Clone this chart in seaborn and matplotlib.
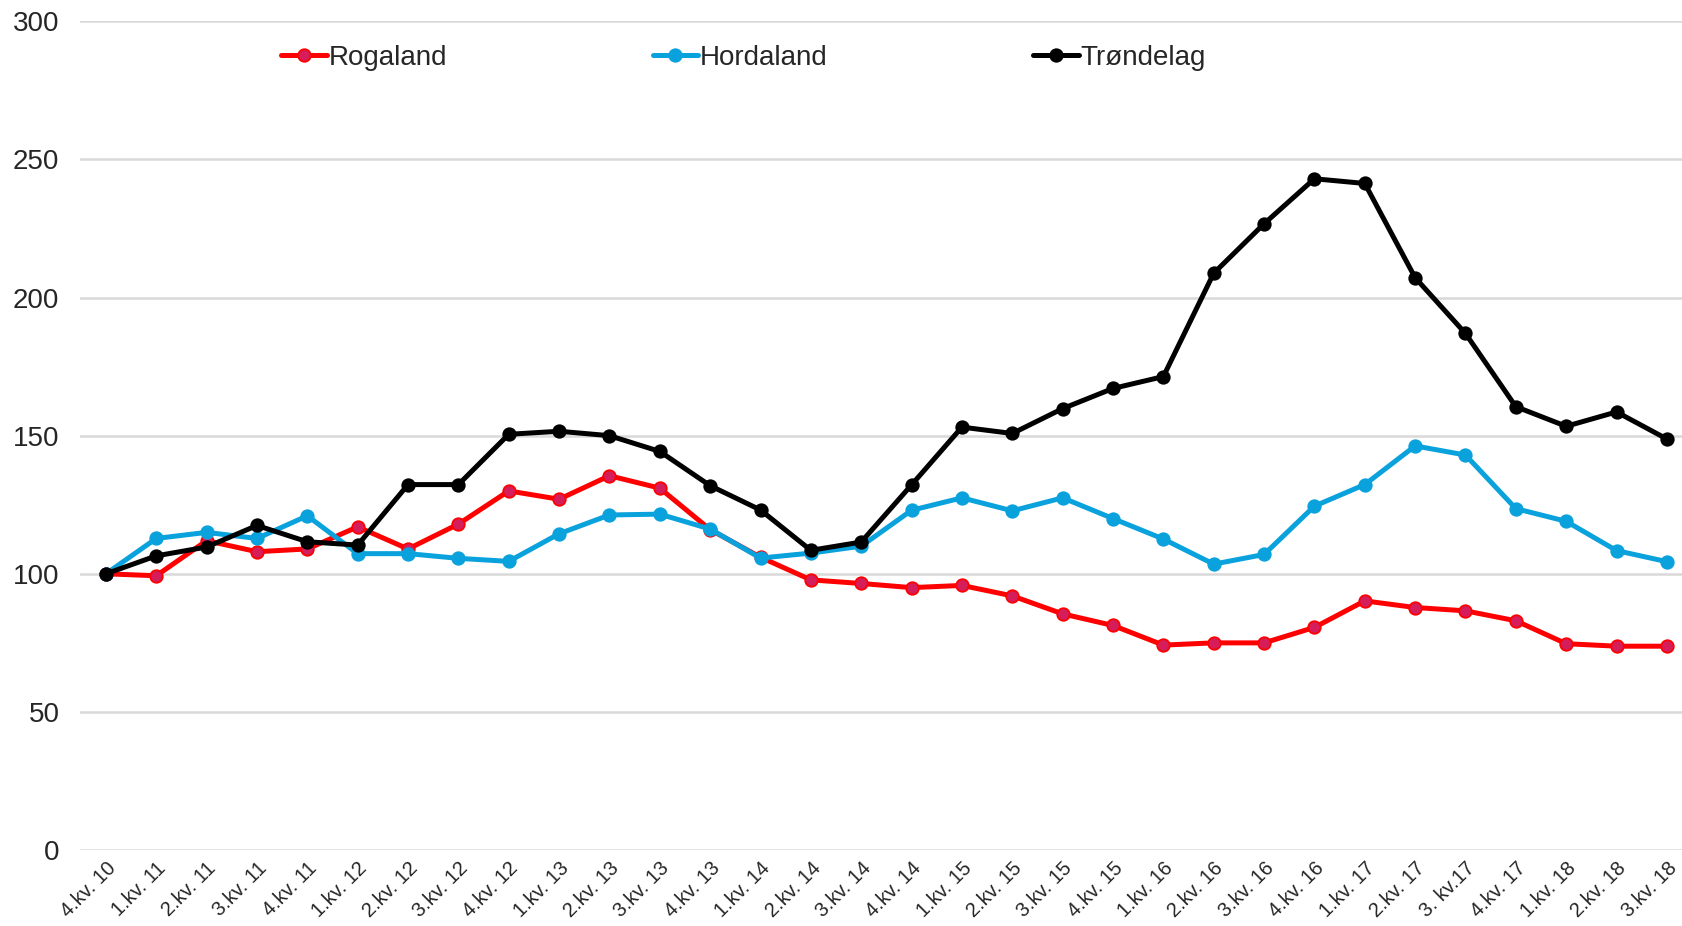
import numpy as np
import pandas as pd
import seaborn as sns
import matplotlib.pyplot as plt

quarters = ['4.kv. 10', '1.kv. 11', '2.kv. 11', '3.kv. 11', '4.kv. 11', '1.kv. 12',
            '2.kv. 12', '3.kv. 12', '4.kv. 12', '1.kv. 13', '2.kv. 13', '3.kv. 13',
            '4.kv. 13', '1.kv. 14', '2.kv. 14', '3.kv. 14', '4.kv. 14', '1.kv. 15',
            '2.kv. 15', '3.kv. 15', '4.kv. 15', '1.kv. 16', '2.kv. 16', '3.kv. 16',
            '4.kv. 16', '1.kv. 17', '2.kv. 17', '3. kv.17', '4.kv. 17', '1.kv. 18',
            '2.kv. 18', '3.kv. 18']

rogaland = [100, 99.3, 112, 108, 109, 117, 109, 118, 130, 127, 135.5, 131,
            116, 106, 97.8, 96.5, 95, 95.8, 92, 85.5, 81.3, 74.2, 75, 75,
            80.6, 90.2, 87.8, 86.6, 83, 74.7, 73.8, 73.8]
hordaland = [100, 112.8, 115, 112.8, 121, 107.3, 107.3, 105.6, 104.5, 114.5, 121.3, 121.6,
             116.2, 105.7, 107.5, 110, 123, 127.5, 122.8, 127.5, 120, 112.6, 103.5, 107,
             124.5, 132.3, 146.3, 143, 123.6, 119, 108.4, 104.4]
trondelag = [100, 106.5, 109.7, 117.5, 111.6, 110.4, 132.3, 132.3, 150.5, 151.6, 150, 144.3,
             131.9, 123.1, 108.5, 111.5, 132.2, 153.1, 150.8, 159.8, 167.1, 171.4, 208.8, 226.7,
             243, 241.3, 207.2, 187, 160.5, 153.4, 158.6, 148.8]

regions = ['Rogaland', 'Hordaland', 'Trøndelag']
series = [rogaland, hordaland, trondelag]
line_colors = ['#FF0000', '#0AA2DC', '#000000']
face_colors = ['#D41D5A', '#0AA2DC', '#000000']

sns.set_theme(style='white')
plt.rcParams['font.family'] = ['Liberation Sans', 'DejaVu Sans']

fig = plt.figure(figsize=(16.82, 9.26), dpi=100)
ax = fig.add_axes([0.0477, 0.082, 0.9523, 0.895])

x = np.arange(len(quarters))
for name, vals, lc, fc in zip(regions, series, line_colors, face_colors):
    df = pd.DataFrame({'x': x, 'y': vals})
    sns.lineplot(data=df, x='x', y='y', ax=ax, color=lc, linewidth=3.6,
                 marker='o', markersize=9, markerfacecolor=fc,
                 markeredgecolor=lc, markeredgewidth=1.3, label=name)

ax.set_ylim(0, 300)
ax.set_yticks(range(0, 301, 50))
ax.set_xlim(-0.51, 31.3)
ax.set_xticks(x)
ax.set_xticklabels(quarters, rotation=45, ha='right', rotation_mode='anchor',
                   fontsize=14.5)
ax.tick_params(axis='y', labelsize=20, pad=15, length=0)
ax.tick_params(axis='x', pad=6, length=0)
ax.yaxis.grid(True, color='#D9D9D9', linewidth=1.8)
ax.set_axisbelow(True)
for s in ax.spines.values():
    s.set_visible(False)
ax.set_xlabel('')
ax.set_ylabel('')

ax.legend(loc='center left', bbox_to_anchor=(0.1255, 0.956), ncol=3, frameon=False,
          fontsize=20, handlelength=1.65, handletextpad=0.05, columnspacing=7.4,
          borderpad=0, borderaxespad=0)

fig.savefig('out.png', dpi=100)
